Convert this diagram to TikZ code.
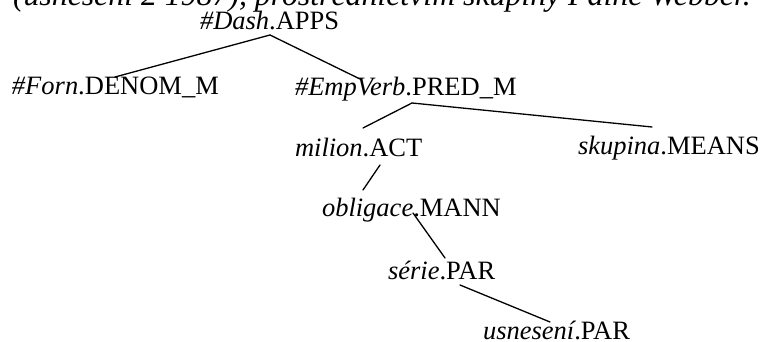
\documentclass[tikz,border=0pt]{standalone}
\usepackage{fontspec}
\setmainfont{Liberation Serif}
\begin{document}
\begin{tikzpicture}[x=1pt,y=1pt,
  lbl/.style={anchor=base west,inner sep=0pt,outer sep=0pt,font=\fontsize{26.5}{30}\selectfont},
  headlbl/.style={lbl,font=\fontsize{31.8}{36}\selectfont},
  edge/.style={line width=1.3pt,line cap=round}]
\useasboundingbox (0,0) rectangle (765,342);
\clip (0,0) rectangle (765,342);
\node[headlbl] (head) at (13,336) {\textit{(usnesení 2 1987), prostřednictvím skupiny Paine Webber.}};
\node[lbl] (dash) at (200,312) {\textit{\#Dash}.APPS};
\node[lbl] (forn) at (12,247) {\textit{\#Forn}.DENOM\_M};
\node[lbl] (emp) at (295,246) {\textit{\#EmpVerb}.PRED\_M};
\node[lbl] (milion) at (295,185) {\textit{milion}.ACT};
\node[lbl] (skup) at (578,187) {\textit{skupina}.MEANS};
\node[lbl] (oblig) at (322,125) {\textit{obligace}.MANN};
\node[lbl] (serie) at (388,62) {\textit{série}.PAR};
\node[lbl] (usn) at (483,2) {\textit{usnesení}.PAR};
\coordinate (dash-o) at ([shift={(70,-5)}]dash.base west);
\coordinate (forn-i) at ([shift={(103,18)}]forn.base west);
\coordinate (emp-i) at ([shift={(67,16)}]emp.base west);
\coordinate (emp-o) at ([shift={(117,-7)}]emp.base west);
\coordinate (milion-i) at ([shift={(68,29)}]milion.base west);
\coordinate (milion-o) at ([shift={(85,-8)}]milion.base west);
\coordinate (skup-i) at ([shift={(74,28)}]skup.base west);
\coordinate (oblig-i) at ([shift={(41,27)}]oblig.base west);
\coordinate (oblig-o) at ([shift={(91,4)}]oblig.base west);
\coordinate (serie-i) at ([shift={(57,22)}]serie.base west);
\coordinate (serie-o) at ([shift={(72,-5)}]serie.base west);
\coordinate (usn-i) at ([shift={(67,18)}]usn.base west);
\draw[edge] (dash-o) -- (forn-i);
\draw[edge] (dash-o) -- (emp-i);
\draw[edge] (emp-o) -- (milion-i);
\draw[edge] (emp-o) -- (skup-i);
\draw[edge] (milion-o) -- (oblig-i);
\draw[edge] (oblig-o) -- (serie-i);
\draw[edge] (serie-o) -- (usn-i);
\end{tikzpicture}
\end{document}
